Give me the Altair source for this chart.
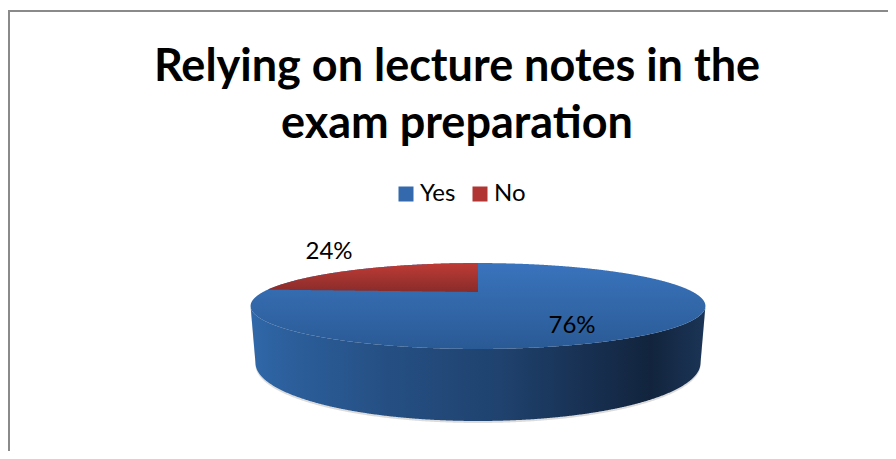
import altair as alt
import numpy as np
import pandas as pd

CATEGORIES = ["Yes", "No"]
SHARES = [76, 24]
LABELS = ["76%", "24%"]
TITLE_LINES = ["Relying on lecture notes in the", "exam preparation"]
COLORS = ["#3569ad", "#b13532"]
FONT = "Lato"

W, H = 880, 443
# Disc layout, in page pixels: a perspective view of a unit circle
CX, APEX_Y = 478.0, 292.0
K_X, K_Y, PERSP = 215.0, 38.4, -0.326
DEPTH_CY, DEPTH_RX, DEPTH_RY = 363.0, 222.5, 58.0

def project(u, v):
    w = 1 + PERSP * v
    return CX + K_X * u / w, APEX_Y + K_Y * v / w

# silhouette of the projected circle
t = np.radians(np.linspace(0, 360, 1441))
px, py = project(np.sin(t), -np.cos(t))
rx = (px.max() - px.min()) / 2
ry = (py.max() - py.min()) / 2
cy = (py.max() + py.min()) / 2

def upper(x):
    return cy - ry * np.sqrt(np.clip(1 - ((x - CX) / rx) ** 2, 0, 1))

def lower(x):
    return cy + ry * np.sqrt(np.clip(1 - ((x - CX) / rx) ** 2, 0, 1))

xs = CX + rx * np.sin(np.radians(np.linspace(-90, 90, 721)))

def side_bottom(x):
    inside = np.abs(x - CX) <= DEPTH_RX
    b = DEPTH_CY + DEPTH_RY * np.sqrt(np.clip(1 - ((x - CX) / DEPTH_RX) ** 2, 0, 1))
    edge = cy + (DEPTH_CY - cy) * (rx - np.abs(x - CX)) / max(rx - DEPTH_RX, 1e-6)
    return np.where(inside, b, edge)

top_df = pd.DataFrame({"x": xs, "y": upper(xs), "y2": lower(xs)})
side_df = pd.DataFrame({"x": xs, "y": lower(xs), "y2": side_bottom(xs)})
shadow_df = pd.DataFrame({"x": xs, "y": lower(xs), "y2": side_bottom(xs) + 2})

# Wedge for "No": runs counter-clockwise from 12 o'clock by its share of the circle
sweep = np.radians(360 * SHARES[1] / sum(SHARES))
end_x, end_y = project(-np.sin(sweep), -np.cos(sweep))
wx = np.linspace(end_x, CX, 240)
wedge_df = pd.DataFrame({
    "x": wx,
    "y": upper(wx),
    "y2": end_y + (APEX_Y - end_y) * (wx - end_x) / (CX - end_x),
})

xs_scale = alt.Scale(domain=[8, 8 + W], nice=False, zero=False)
ys_scale = alt.Scale(domain=[8 + H, 8], nice=False, zero=False)
X = alt.X("x:Q", scale=xs_scale, axis=None)
Y = alt.Y("y:Q", scale=ys_scale, axis=None)

def grad(x1, y1, x2, y2, stops):
    return alt.Gradient(gradient="linear", x1=x1, y1=y1, x2=x2, y2=y2,
                        stops=[alt.GradientStop(offset=o, color=c) for o, c in stops])

def area(df, fill, **kw):
    return alt.Chart(df).mark_area(color=fill, clip=False, **kw).encode(x=X, y=Y, y2="y2:Q")

shadow = area(shadow_df, "#8c8c8c", opacity=0.3)
side = area(side_df, grad(0, 0, 1, 0, [
    (0.0, "#3068a9"), (0.08, "#2c5f9c"), (0.30, "#254f83"), (0.55, "#1f426e"),
    (0.75, "#172f50"), (0.88, "#12243d"), (1.0, "#1b3557")]))
top = area(top_df, grad(0, 0, 0, 1, [(0, "#3a74bd"), (1, "#2a5a95")]))
wedge = area(wedge_df, grad(0, 0, 0, 1, [(0, "#bf3b36"), (1, "#882c2a")]))

label_df = pd.DataFrame({"x": [572, 329], "y": [326, 252], "t": LABELS})
labels = alt.Chart(label_df).mark_text(font=FONT, fontSize=24, color="#000000", baseline="middle").encode(
    x=alt.X("x:Q", scale=xs_scale, axis=None), y=alt.Y("y:Q", scale=ys_scale, axis=None), text="t:N")

legend_df = pd.DataFrame({"Answer": CATEGORIES, "share": SHARES, "x": [0, 0], "y": [0, 0]})
legend_layer = alt.Chart(legend_df).mark_point(filled=True, opacity=0, size=1).encode(
    x=X, y=Y,
    color=alt.Color("Answer:N", sort=CATEGORIES,
                    scale=alt.Scale(domain=CATEGORIES, range=COLORS),
                    legend=alt.Legend(orient="none", legendX=386, legendY=174, direction="horizontal",
                                      title=None, symbolType="square", symbolSize=225,
                                      symbolOpacity=1, symbolStrokeWidth=0, columnPadding=12,
                                      labelFont=FONT, labelFontSize=24, labelColor="#000000",
                                      labelOffset=2)),
)

frame_top = alt.Chart(pd.DataFrame({"k": [0]})).mark_rule(color="#8a8a8a", strokeWidth=2, clip=False).encode(
    x=alt.value(0), x2=alt.value(W), y=alt.value(3))
frame_left = alt.Chart(pd.DataFrame({"k": [0]})).mark_rule(color="#8a8a8a", strokeWidth=2, clip=False).encode(
    x=alt.value(1), y=alt.value(3), y2=alt.value(H))

chart = alt.layer(frame_top, frame_left, shadow, side, top, wedge, labels, legend_layer).properties(
    width=W, height=H, padding=0,
    autosize=alt.AutoSizeParams(type="none"),
    title=alt.TitleParams(text=TITLE_LINES, anchor="middle", frame="group", orient="top",
                          font=FONT, fontSize=45, fontWeight="bold", color="#000000",
                          lineHeight=57, baseline="top", offset=0, dx=9, dy=147),
).configure_view(stroke=None)

chart.save("out.html", embed_options={"renderer": "svg", "actions": False})
